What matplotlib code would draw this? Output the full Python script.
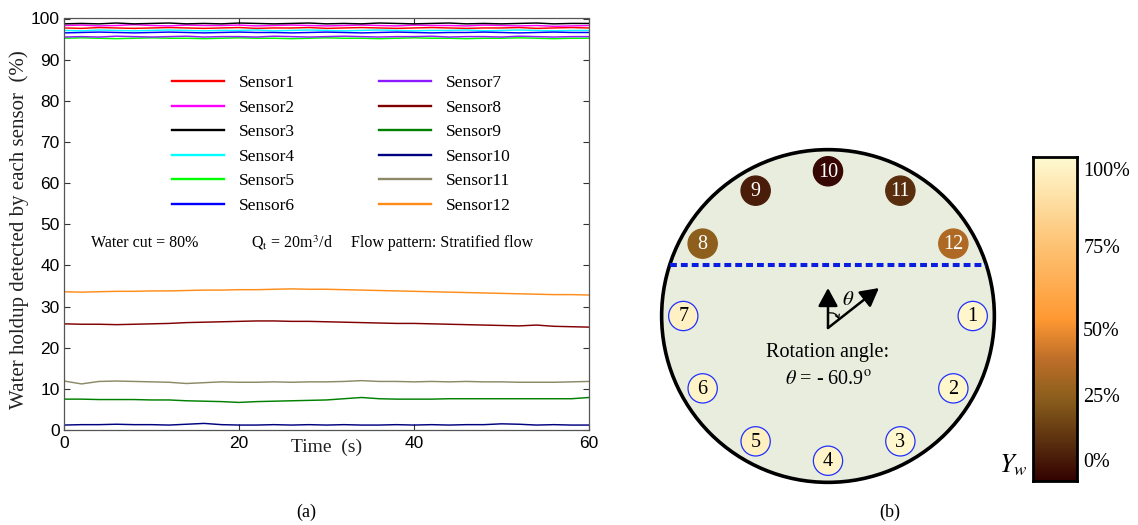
import numpy as np
import matplotlib
matplotlib.use("Agg")
import matplotlib.pyplot as plt
from matplotlib.colors import LinearSegmentedColormap
from matplotlib.patches import Circle

plt.rcParams['mathtext.fontset'] = 'stix'

# ---------------- data ----------------
time_s = [0, 2, 4, 6, 8, 10, 12, 14, 16, 18, 20, 22, 24, 26, 28, 30,
          32, 34, 36, 38, 40, 42, 44, 46, 48, 50, 52, 54, 56, 58, 60]

sensor1 = [97.7, 97.6, 97.8, 97.7, 97.6, 97.7, 97.8, 97.7, 97.6, 97.7, 97.8, 97.6, 97.7, 97.7, 97.8, 97.6,
           97.7, 97.8, 97.7, 97.6, 97.7, 97.8, 97.7, 97.6, 97.7, 97.7, 97.8, 97.6, 97.7, 97.8, 97.7]
sensor2 = [98.3, 98.4, 98.2, 98.3, 98.5, 98.3, 98.2, 98.4, 98.3, 98.3, 98.4, 98.2, 98.3, 98.4, 98.3, 98.2,
           98.3, 98.4, 98.3, 98.2, 98.4, 98.3, 98.3, 98.2, 98.4, 98.3, 98.2, 98.3, 98.1, 98.2, 98.3]
sensor3 = [98.7, 98.8, 98.7, 98.9, 98.7, 98.8, 98.9, 98.7, 98.8, 98.7, 98.9, 98.8, 98.7, 98.8, 98.9, 98.7,
           98.8, 98.7, 98.9, 98.8, 98.7, 98.8, 98.9, 98.7, 98.8, 98.7, 98.8, 98.9, 98.7, 98.8, 98.8]
sensor4 = [97.1, 97.0, 97.2, 97.1, 97.0, 97.1, 97.2, 97.1, 97.0, 97.1, 97.1, 97.2, 97.0, 97.1, 97.2, 97.1,
           97.0, 97.1, 97.2, 97.1, 97.0, 97.1, 97.1, 97.2, 97.0, 97.1, 97.2, 97.1, 97.0, 97.1, 97.1]
sensor5 = [95.2, 95.3, 95.2, 95.1, 95.2, 95.3, 95.2, 95.2, 95.1, 95.2, 95.3, 95.2, 95.2, 95.1, 95.2, 95.3,
           95.2, 95.2, 95.1, 95.2, 95.3, 95.2, 95.2, 95.1, 95.2, 95.2, 95.3, 95.2, 95.1, 95.2, 95.2]
sensor6 = [96.5, 96.6, 96.7, 96.6, 96.5, 96.6, 96.7, 96.6, 96.5, 96.6, 96.7, 96.6, 96.6, 96.5, 96.6, 96.7,
           96.6, 96.5, 96.6, 96.7, 96.6, 96.5, 96.6, 96.6, 96.7, 96.6, 96.5, 96.6, 96.7, 96.6, 96.6]
sensor7 = [95.5, 95.6, 95.5, 95.7, 95.6, 95.5, 95.6, 95.7, 95.5, 95.6, 95.6, 95.5, 95.7, 95.6, 95.5, 95.6,
           95.7, 95.6, 95.5, 95.6, 95.6, 95.7, 95.5, 95.6, 95.6, 95.5, 95.7, 95.6, 95.5, 95.6, 95.6]
sensor8 = [25.8, 25.7, 25.7, 25.6, 25.7, 25.8, 25.9, 26.1, 26.2, 26.3, 26.4, 26.5, 26.5, 26.4, 26.4, 26.3,
           26.2, 26.1, 26.0, 25.9, 25.9, 25.8, 25.7, 25.6, 25.5, 25.4, 25.3, 25.5, 25.2, 25.1, 25.0]
sensor9 = [7.5, 7.5, 7.4, 7.4, 7.4, 7.3, 7.3, 7.1, 7.0, 6.9, 6.7, 6.9, 7.0, 7.1, 7.2, 7.3,
           7.6, 7.9, 7.6, 7.5, 7.5, 7.5, 7.6, 7.6, 7.6, 7.6, 7.6, 7.6, 7.6, 7.6, 7.9]
sensor10 = [1.2, 1.3, 1.3, 1.4, 1.3, 1.3, 1.2, 1.4, 1.6, 1.3, 1.2, 1.2, 1.3, 1.2, 1.3, 1.2,
            1.3, 1.2, 1.2, 1.3, 1.2, 1.3, 1.2, 1.3, 1.3, 1.5, 1.4, 1.2, 1.3, 1.2, 1.2]
sensor11 = [11.9, 11.2, 11.8, 11.9, 11.8, 11.7, 11.6, 11.3, 11.5, 11.7, 11.6, 11.6, 11.7, 11.6, 11.7, 11.7,
            11.8, 12.0, 11.8, 11.8, 11.7, 11.8, 11.7, 11.8, 11.7, 11.7, 11.6, 11.6, 11.6, 11.7, 11.8]
sensor12 = [33.6, 33.5, 33.6, 33.7, 33.7, 33.8, 33.8, 33.9, 34.0, 34.0, 34.1, 34.1, 34.2, 34.3, 34.2, 34.2,
            34.1, 34.0, 33.9, 33.8, 33.7, 33.6, 33.5, 33.4, 33.3, 33.2, 33.1, 33.0, 32.9, 32.9, 32.8]

sensor_names = ['Sensor1', 'Sensor2', 'Sensor3', 'Sensor4', 'Sensor5', 'Sensor6',
                'Sensor7', 'Sensor8', 'Sensor9', 'Sensor10', 'Sensor11', 'Sensor12']
sensor_colors = ['#ff0000', '#ff00ff', '#000000', '#00ffff', '#00ff00', '#0000ff',
                 '#8c1aff', '#800000', '#008000', '#000080', '#8c8a66', '#ff8c1a']
series = [sensor1, sensor2, sensor3, sensor4, sensor5, sensor6,
          sensor7, sensor8, sensor9, sensor10, sensor11, sensor12]

x_ticks = [0, 20, 40, 60]
y_ticks = [0, 10, 20, 30, 40, 50, 60, 70, 80, 90, 100]
cbar_labels = ['0%', '25%', '50%', '75%', '100%']
cbar_label_pos = [0.056, 0.259, 0.460, 0.719, 0.954]
rotation_angle = -60.9

SERIF = ['Liberation Serif', 'DejaVu Serif']
SANS = ['Liberation Sans', 'DejaVu Sans']

# ---------------- figure ----------------
fig = plt.figure(figsize=(11.38, 5.25), dpi=100)

# ---- panel (a) ----
ax = fig.add_axes([64/1138, 95/525, 525/1138, 411.5/525])
for vals, name, col in zip(series, sensor_names, sensor_colors):
    ax.plot(time_s, vals, color=col, lw=1.05, label=name)
ax.set_xlim(0, 60)
ax.set_ylim(0, 100)
ax.set_xticks(x_ticks)
ax.set_yticks(y_ticks)
ax.tick_params(direction='in', top=True, right=True, length=4, width=0.8,
               labelsize=12.5, colors='#333333', labelcolor='black', pad=3)
ax.tick_params(axis='x', pad=4)
for lab in ax.get_xticklabels() + ax.get_yticklabels():
    lab.set_family(SANS)
for sp in ax.spines.values():
    sp.set_color('#555555')
    sp.set_linewidth(0.9)

ax.set_xlabel('Time  (s)', family=SERIF, fontsize=14, color='#222222')
ax.xaxis.set_label_coords(0.501, -0.022)
ax.set_ylabel('Water holdup detected by each sensor  (%)', family=SERIF, fontsize=15, color='#222222')
ax.yaxis.set_label_coords(-0.067, 0.487)

leg = ax.legend(ncol=2, frameon=False, loc='upper left',
                bbox_to_anchor=((172-64)/525, (430-75)/411.5),
                borderaxespad=0, borderpad=0, handlelength=3.0, handletextpad=0.85,
                columnspacing=4.85, labelspacing=0.48, prop={'family': SERIF, 'size': 12.5})
for h in leg.get_lines():
    h.set_linewidth(1.7)

ax.text((91-64)/525, (430-243)/411.5, 'Water cut = 80%', family=SERIF, fontsize=11.5,
        ha='left', va='center', transform=ax.transAxes)
ax.text((251-64)/525, (430-243)/411.5, r'Q$_{\rm t}$ = 20m$^{3}$/d', family=SERIF, fontsize=11.5,
        ha='left', va='center', transform=ax.transAxes)
ax.text((351-64)/525, (430-243)/411.5, 'Flow pattern: Stratified flow', family=SERIF, fontsize=11.5,
        ha='left', va='center', transform=ax.transAxes)

# ---- colormap ----
cmap = LinearSegmentedColormap.from_list('yw', [
    (0.0, '#330202'), (0.12, '#5a300f'), (0.25, '#8a5d1c'), (0.38, '#c0702a'),
    (0.5, '#ff9933'), (0.75, '#fdc77a'), (1.0, '#fffad2')])

# ---- panel (b) ----
bx = fig.add_axes([650/1138, 31/525, 356/1138, 356/525])
bx.set_xlim(-1.07, 1.07)
bx.set_ylim(-1.07, 1.07)
bx.set_aspect('equal')
bx.axis('off')
bx.add_patch(Circle((0, 0), 1.0, fc='#e9eddd', ec='black', lw=2.6, zorder=1))

y_if = 0.306
xh = np.sqrt(1 - y_if**2)
bx.plot([-xh, xh], [y_if, y_if], color='#0a1ee0', lw=2.9, dashes=(1.7, 1.0), zorder=3)

r_s = 0.87
for k, vals in enumerate(series):
    ang = np.deg2rad(-30 * k)
    cx, cy = r_s*np.cos(ang), r_s*np.sin(ang)
    m = np.mean(vals)
    fc = cmap(m/100)
    wet = m > 50
    bx.add_patch(Circle((cx, cy), 0.088, fc=fc, ec='#2030ff' if wet else fc,
                        lw=0.9, zorder=4))
    bx.text(cx, cy - 0.005, str(k+1), ha='center', va='center', family=SERIF,
            fontsize=14.5, color='black' if wet else 'white', zorder=5)

o = (0.0, -0.072)
arrow_kw = dict(arrowstyle='-|>,head_length=0.55,head_width=0.3', color='black', lw=1.8,
                mutation_scale=20, shrinkA=0, shrinkB=0)
bx.annotate('', xy=(0.0, 0.168), xytext=o, arrowprops=arrow_kw, zorder=6)
bx.annotate('', xy=(0.306, 0.168), xytext=o, arrowprops=arrow_kw, zorder=6)
d = np.array([0.306, 0.240]); d = d/np.linalg.norm(d)
bx.annotate('', xy=(o[0]+0.085*d[0], o[1]+0.085*d[1]), xytext=(0.0, o[1]+0.09),
            arrowprops=dict(arrowstyle='->,head_length=0.25,head_width=0.15', color='black',
                            lw=0.9, connectionstyle='arc3,rad=-0.4', shrinkA=0, shrinkB=0),
            zorder=6)
bx.text(0.12, 0.10, r'$\theta$', fontsize=15, ha='center', va='center', zorder=6)
bx.text(0.0, -0.222, 'Rotation angle:', family=SERIF, fontsize=14.5, ha='center', va='center')
bx.text(0.0, -0.385, r'$\theta$ = - %.1f$^{\rm o}$' % abs(rotation_angle), family=SERIF,
        fontsize=14.5, ha='center', va='center')

# ---- colorbar ----
cx_ax = fig.add_axes([1033/1138, 44/525, 44/1138, 324/525])
grad = np.linspace(0, 1, 256).reshape(-1, 1)
cx_ax.imshow(grad, cmap=cmap, aspect='auto', origin='lower', extent=[0, 1, 0, 1])
cx_ax.set_xticks([])
cx_ax.set_yticks([])
for sp in cx_ax.spines.values():
    sp.set_linewidth(2.0)
for lab, pos in zip(cbar_labels, cbar_label_pos):
    cx_ax.text(1.14, pos, lab, transform=cx_ax.transAxes, family=SERIF, fontsize=14.5,
               ha='left', va='center')
fig.text(1013/1138, 1 - 465/525, r'$Y_w$', fontsize=19, ha='center', va='center')

fig.text(306/1138, 1 - 512/525, '(a)', family=SERIF, fontsize=13, ha='center', va='center')
fig.text(890/1138, 1 - 512/525, '(b)', family=SERIF, fontsize=13, ha='center', va='center')

fig.savefig('out.png', dpi=100)
